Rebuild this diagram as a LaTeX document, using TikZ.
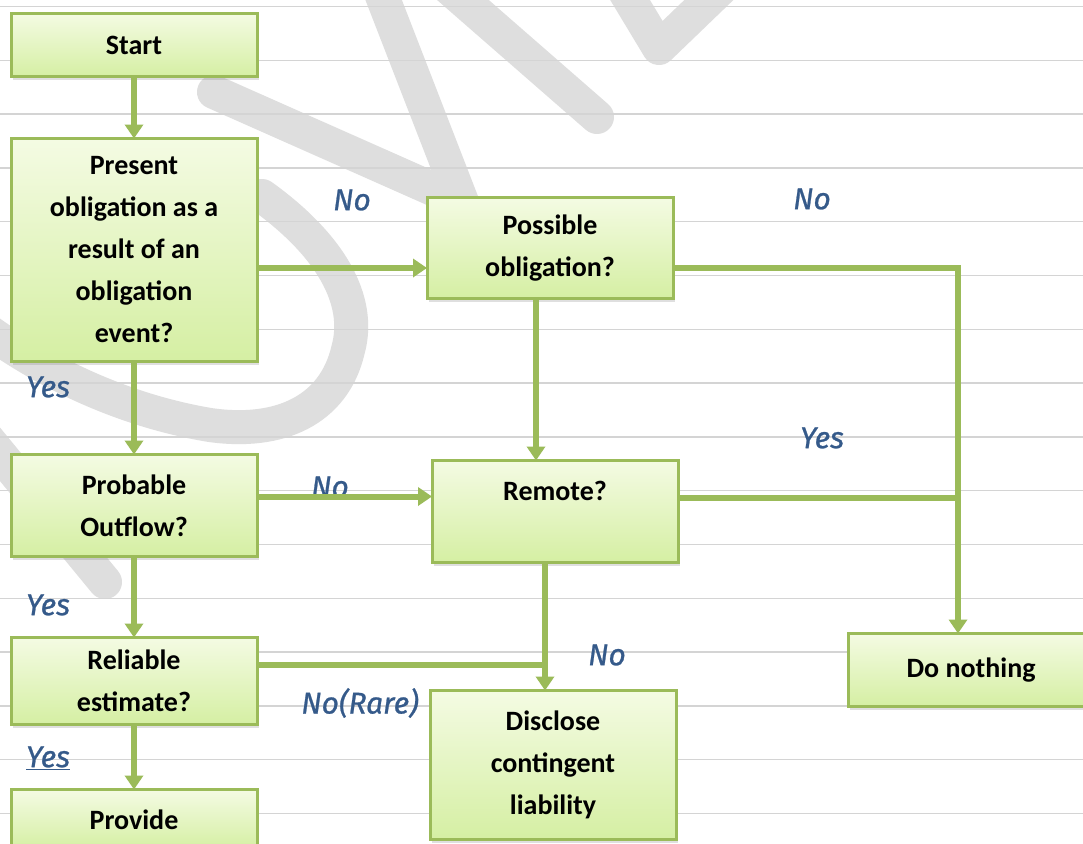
\documentclass[tikz,border=0pt]{standalone}
\usepackage{fontspec}
\setmainfont{Carlito}
\newfontfamily\handfont{Fira Sans}[ItalicFeatures={FakeBold=0.8}]
\usetikzlibrary{positioning,shadows,arrows.meta,calc}
\definecolor{boxline}{HTML}{9BBB59}
\definecolor{boxtop}{HTML}{F4FBE3}
\definecolor{boxbot}{HTML}{D5EFA3}
\definecolor{lblblue}{HTML}{355A8A}
\definecolor{rulegrey}{HTML}{D4D4D4}
\definecolor{markgrey}{HTML}{DEDEDE}

\begin{document}
\begin{tikzpicture}[x=1pt, y=-1pt, node distance=60pt,
    box/.style={rectangle, draw=boxline, line width=3pt, top color=boxtop, bottom color=boxbot,
        minimum width=246pt, outer sep=0pt, align=center, font=\fontsize{28}{42}\selectfont\bfseries,
        drop shadow={shadow xshift=2pt, shadow yshift=-3pt, opacity=0.25}},
    flow/.style={draw=boxline, line width=6pt},
    flowto/.style={flow, -{Triangle[width=18pt,length=14pt]}},
    watermark/.style={markgrey, line width=34pt, line cap=round, line join=round},
    lbl/.style={text=lblblue, font=\handfont\itshape\fontsize{30}{32}\selectfont}]
            \useasboundingbox (0,0) rectangle (1083,843);
            \clip (0,0) rectangle (1083,843);
            \fill[white] (0,0) rectangle (1083,843);

            % watermark
            \draw[watermark] (214,92) -- (462,202) -- (372,-30);
            \draw[watermark] (440,-20) -- (597,117);
            \draw[watermark] (612,-30) -- (659,48) -- (740,-30);
            \draw[watermark] (262,196) .. controls (330,245) and (362,300) .. (348,350)
                .. controls (334,410) and (280,435) .. (210,425)
                .. controls (120,410) and (40,370) .. (-20,325);
            \draw[watermark] (-20,430) -- (105,582);

            % ruled paper
            \foreach \k in {0,...,15}
                \draw[rulegrey, line width=1.5pt] (0,{6.5+53.8*\k}) -- (1083,{6.5+53.8*\k});

            \node[box, minimum height=63pt] (start) at (134,45) {Start};
            \node[box, minimum height=223pt, below=62pt of start] (present) {Present\\obligation as a\\result of an\\obligation\\event?};
            \node[box, minimum height=102pt, below=93pt of present] (probable) {Probable\\Outflow?};
            \node[box, minimum height=87pt, below=81pt of probable] (reliable) {Reliable\\estimate?};
            \node[box, minimum height=60pt, below=65pt of reliable] (provide) {Provide};
            \node[box, minimum height=101pt, right=170pt of present, yshift=2pt] (possible) {Possible\\obligation?};
            \node[box, minimum height=102pt, below=162pt of possible, xshift=5pt] (remote) {Remote?\\\mbox{}};
            \node[box, minimum height=149pt, below=128pt of remote, xshift=-2pt] (disclose) {Disclose\\contingent\\liability};
            \node[box, minimum height=73pt] (donothing) at (971,670) {Do nothing};

            \node[lbl] (no1) at (352,200) {No};
            \node[lbl] (no2) at (812,199) {No};
            \node[lbl] (yes1) at (48,387) {Yes};
            \node[lbl] (no3) at (330,487) {No};
            \node[lbl] (yes2) at (822,438) {Yes};
            \node[lbl] (yes3) at (48,605) {Yes};
            \node[lbl] (no4) at (607,655) {No};
            \node[lbl] (norare) at (360,703) {No(Rare)};
            \node[lbl] (yes4) at (48,758) {\underline{Yes}};

            \coordinate (turn) at ([xshift=-13pt]donothing.north);
            \coordinate (p1) at ([yshift=-18pt]present.east);
            \coordinate (p2) at ([yshift=-20pt]possible.east);
            \coordinate (q1) at ([xshift=-14pt]possible.south);
            \coordinate (b1) at ([yshift=9pt]probable.east);
            \coordinate (r1) at ([yshift=14pt]remote.east);
            \coordinate (r2) at ([xshift=-10pt]remote.south);
            \coordinate (e1) at ([yshift=16pt]reliable.east);

            \draw[flowto] (start) -- (present);
            \draw[flowto] (present) -- (probable);
            \draw[flowto] (probable) -- (reliable);
            \draw[flowto] (reliable) -- (provide);
            \draw[flowto] (p1) -- (p1 -| possible.west);
            \draw[flowto] (p2) -| (turn);
            \draw[flowto] (q1) -- (q1 |- remote.north);
            \draw[flowto] (b1) -- (b1 -| remote.west);
            \draw[flow] (r1) -- (r1 -| turn);
            \draw[flowto] (r2) -- (r2 |- disclose.north);
            \draw[flow] (e1) -- (e1 -| r2);
        \end{tikzpicture}
\end{document}
